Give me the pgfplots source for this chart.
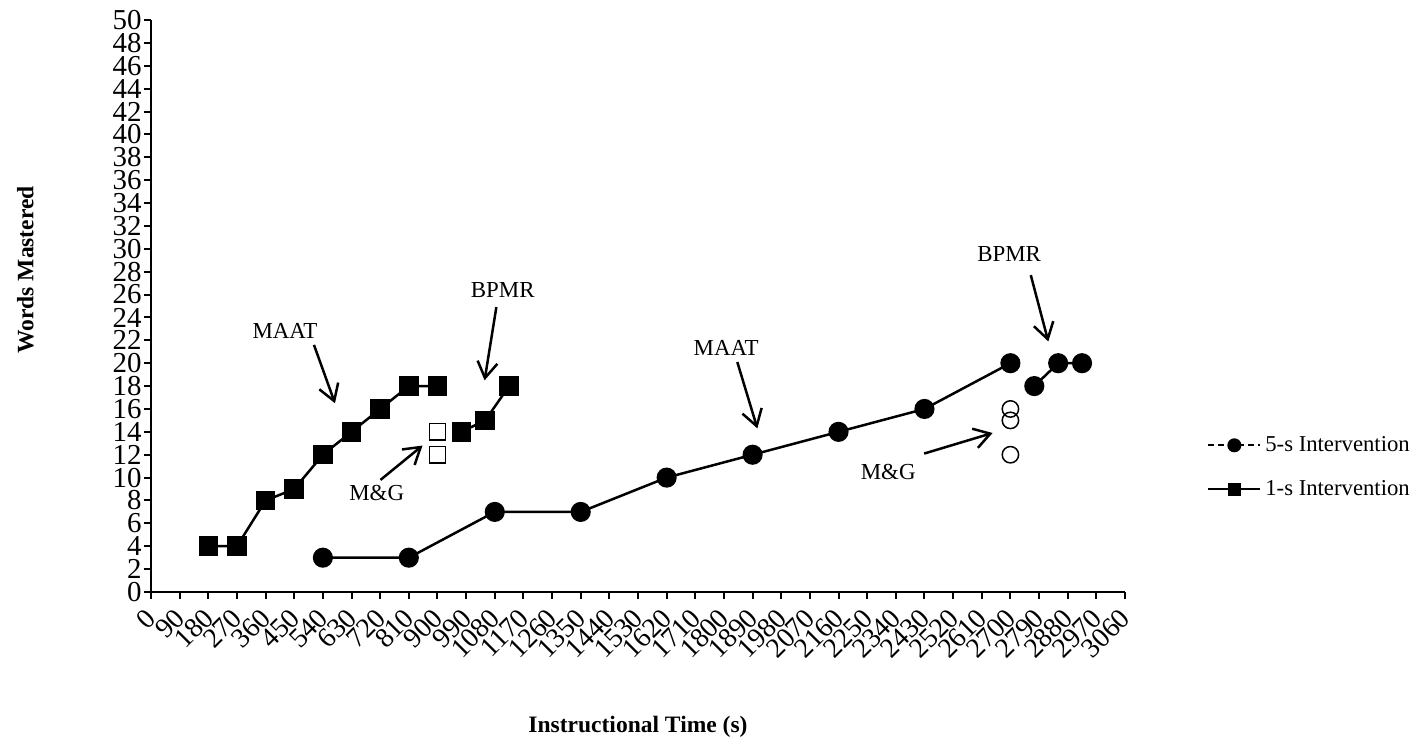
\documentclass[border=0pt]{standalone}
\usepackage{fontspec}
\setmainfont{Liberation Serif}
\usepackage{pgfplots}
\pgfplotsset{compat=1.18}
\usetikzlibrary{arrows.meta}

\newcommand{\annfont}{\fontsize{11.5}{11.5}\selectfont}

\begin{document}
\begin{tikzpicture}
\begin{axis}[
  scale only axis, width=487bp, height=286bp,
  xmin=0, xmax=3060, ymin=0, ymax=50,
  axis x line*=bottom, axis y line*=left,
  axis line style={line width=1bp, black},
  xtick={0,90,...,3060}, ytick={0,2,...,50},
  scaled x ticks=false,
  tick align=outside, major tick length=3.5bp,
  tick style={line width=1bp, black},
  /pgf/number format/assume math mode=true,
  /pgf/number format/1000 sep={},
  yticklabel style={font=\fontsize{14.5}{14.5}\selectfont, inner sep=1bp},
  xticklabel style={font=\fontsize{14}{14}\selectfont,
    xshift=1bp, yshift=-6.5bp, rotate=45, anchor=east, inner sep=1bp},
  xlabel={\textbf{Instructional Time (s)}},
  ylabel={\textbf{Words Mastered}},
  label style={font=\fontsize{11.8}{11.8}\selectfont},
  xlabel style={at={(rel axis cs:0.5,-0.236)}, anchor=center},
  ylabel style={at={(rel axis cs:-0.129,0.563)}, anchor=center},
  legend style={draw=none, fill=none, font=\fontsize{11.4}{11.4}\selectfont,
    at={(rel axis cs:1.078,0.218)}, anchor=west, row sep=9bp,
    cells={anchor=west}},
  legend image code/.code={\draw[mark repeat=2,mark phase=2,#1]
    plot coordinates {(0bp,0bp) (13bp,0bp) (26bp,0bp)};},
  clip=false,
]
\coordinate (bbsw) at (rel axis cs:0,0);
\coordinate (bbne) at (rel axis cs:1,1);

% legend samples
\addlegendimage{black, line width=1bp, densely dashed, mark=*, mark size=3bp,
  mark options={solid, fill=black}}
\addlegendentry{5-s Intervention}
\addlegendimage{black, line width=1bp, mark=square*, mark size=2.6bp,
  mark options={solid, fill=black}}
\addlegendentry{1-s Intervention}

% 1-s intervention
\addplot[black, line width=1.25bp, mark=square*, mark size=4.25bp,
  mark options={fill=black}, forget plot] coordinates {
  (180,4) (270,4) (360,8) (450,9) (540,12) (630,14) (720,16) (810,18) (900,18)};
\addplot[black, line width=1.25bp, mark=square*, mark size=4.25bp,
  mark options={fill=black}, forget plot] coordinates {
  (975,14) (1050,15) (1125,18)};
\addplot[only marks, black, mark=square, mark size=4.1bp,
  mark options={line width=0.75bp, fill=white}, forget plot] coordinates {
  (900,14) (900,12)};

% 5-s intervention
\addplot[black, line width=1.25bp, mark=*, mark size=4.4bp,
  mark options={fill=black}, forget plot] coordinates {
  (540,3) (810,3) (1080,7) (1350,7) (1620,10) (1890,12) (2160,14) (2430,16) (2700,20)};
\addplot[black, line width=1.25bp, mark=*, mark size=4.4bp,
  mark options={fill=black}, forget plot] coordinates {
  (2775,18) (2850,20) (2925,20)};
\addplot[only marks, black, mark=o, mark size=4.1bp,
  mark options={line width=0.75bp, fill=white}, forget plot] coordinates {
  (2700,16) (2700,15) (2700,12)};

% phase annotations
\tikzset{ann/.style={line width=1.25bp, -{Straight Barb[length=8bp,width=10bp]}}}
\node[font=\annfont] at (axis cs:421,22.8) {MAAT};
\draw[ann] (axis cs:512,21.6) -- (axis cs:578,16.5);
\node[font=\annfont] at (axis cs:1105,26.4) {BPMR};
\draw[ann] (axis cs:1085,24.9) -- (axis cs:1048,18.5);
\node[font=\annfont] at (axis cs:709,8.65) {M\&G};
\draw[ann] (axis cs:721,9.8) -- (axis cs:853,12.8);
\node[font=\annfont] at (axis cs:1807,21.3) {MAAT};
\draw[ann] (axis cs:1842,20.1) -- (axis cs:1905,14.3);
\node[font=\annfont] at (axis cs:2696,29.5) {BPMR};
\draw[ann] (axis cs:2764,27.7) -- (axis cs:2819,21.9);
\node[font=\annfont] at (axis cs:2316,10.5) {M\&G};
\draw[ann] (axis cs:2429,12.1) -- (axis cs:2644,13.9);
\end{axis}
\pgfresetboundingbox
\path[use as bounding box] ([shift={(-75.5bp,-76.5bp)}]bbsw)
  rectangle ([shift={(145.5bp,10bp)}]bbne);
\end{tikzpicture}
\end{document}
